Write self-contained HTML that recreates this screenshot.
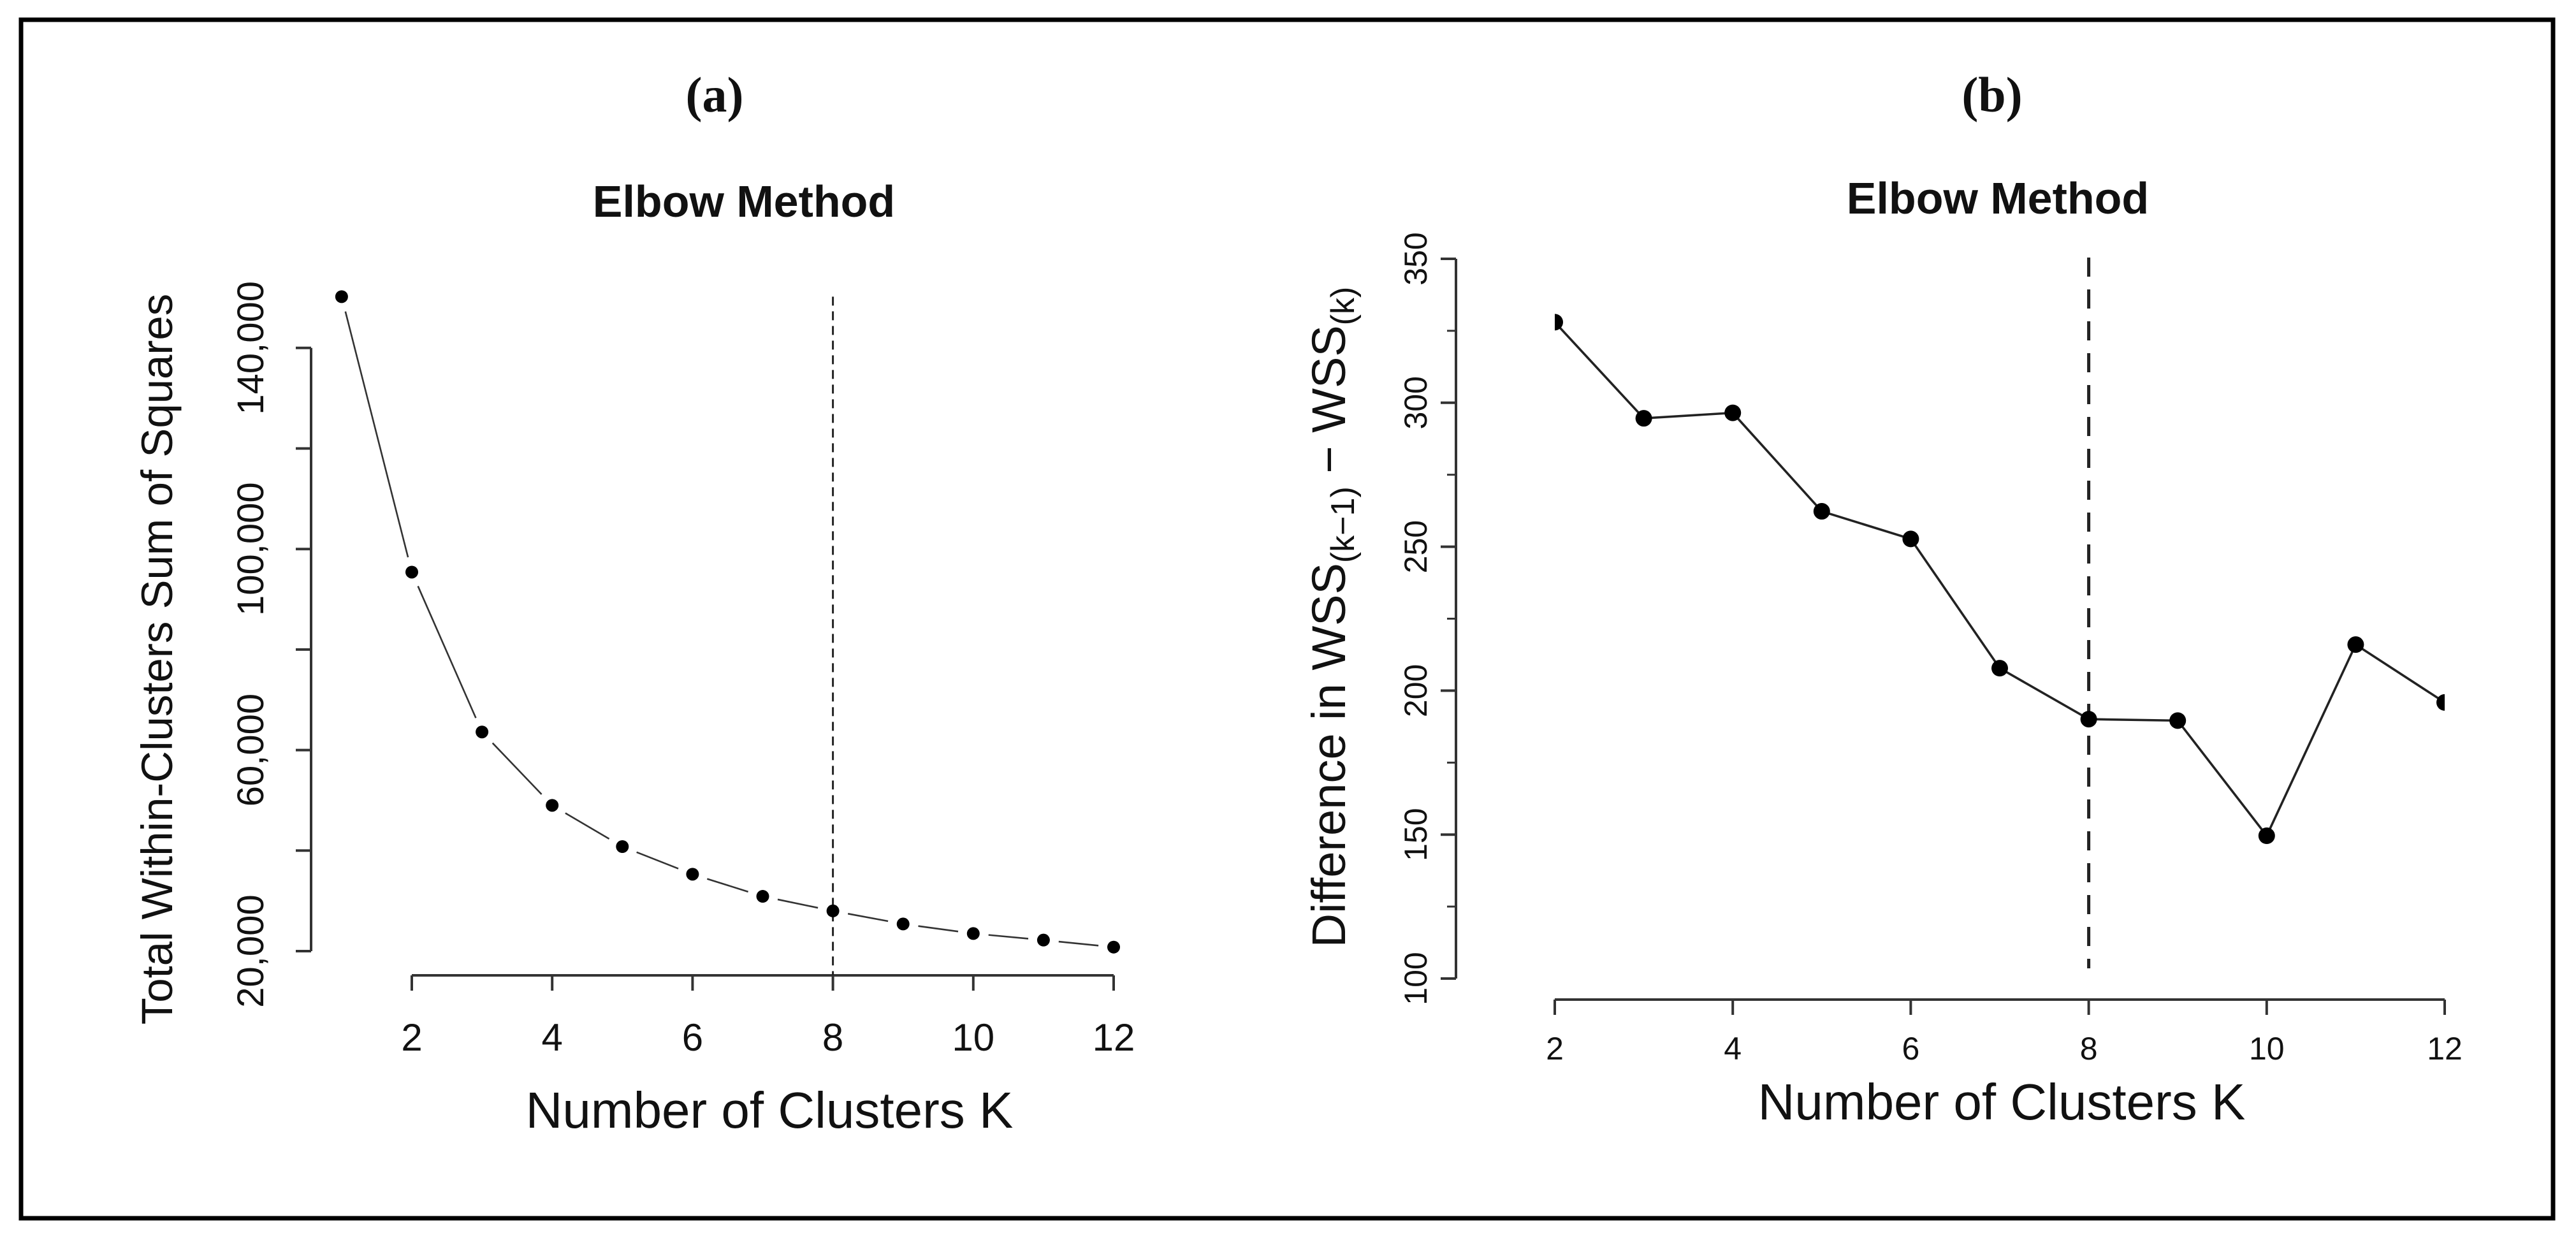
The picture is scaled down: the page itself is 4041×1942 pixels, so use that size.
<!DOCTYPE html>
<html><head><meta charset="utf-8"><style>
html,body{margin:0;padding:0;background:#fff;}
svg{display:block;}
text{font-family:"Liberation Sans",sans-serif;fill:#111;}
</style></head><body>
<svg id="fig" width="4041" height="1942" viewBox="0 0 4041 1942" xmlns="http://www.w3.org/2000/svg">
<rect x="33" y="31" width="3972" height="1880" fill="none" stroke="#000" stroke-width="7"/>
<defs><clipPath id="clipB"><rect x="2439" y="300" width="1396" height="1300"/></clipPath></defs>
<g id="panelA"></g>
<g id="panelB"></g>
</svg>
<script>
const kA = [1,2,3,4,5,6,7,8,9,10,11,12];
const wssA = [150200,95400,63600,49000,40800,35300,30900,28000,25400,23500,22200,20800];
const yTicksA = [20000,40000,60000,80000,100000,120000,140000];
const yTickLabelsA = ["20,000","","60,000","","100,000","","140,000"];
const xTicksA = [2,4,6,8,10,12];
const elbowA = 8;

const kB = [2,3,4,5,6,7,8,9,10,11,12];
const diffB = [328,294.6,296.5,262.3,252.7,207.8,190.1,189.6,149.6,216,195.9];
const yTicksB = [100,150,200,250,300,350];
const xTicksB = [2,4,6,8,10,12];
const elbowB = 8;

const NS = "http://www.w3.org/2000/svg";
function mk(parent, tag, attrs, txt){
  const e = document.createElementNS(NS, tag);
  for (const k in attrs) e.setAttribute(k, attrs[k]);
  if (txt !== undefined) e.textContent = txt;
  parent.appendChild(e);
  return e;
}

// ---------- Panel A ----------
(function(){
  const g = document.getElementById('panelA');
  const xA = k => 646 + (k-2)*110.1;
  const yA = v => 1492 - (v-20000)/20000*157.7;
  const axY = 488, axX = 1530;

  let t = mk(g,'text',{x:1121,y:175,'text-anchor':'middle','font-size':78,'font-weight':'bold','style':'font-family:"Liberation Serif",serif'},'(a)');
   
  t = mk(g,'text',{x:1167,y:340,'text-anchor':'middle','font-size':70,'font-weight':'bold'},'Elbow Method');
   

  let ax = mk(g,'line',{x1:axY,x2:axY,y1:yA(140000),y2:yA(20000),stroke:'#333','stroke-width':4});
   
  yTicksA.forEach((v,i)=>{
    const tk = mk(g,'line',{x1:axY-24,x2:axY,y1:yA(v),y2:yA(v),stroke:'#333','stroke-width':4});
     
    if (yTickLabelsA[i]) {
      const lb = mk(g,'text',{x:0,y:0,'text-anchor':'middle','font-size':58,transform:`translate(413,${yA(v)}) rotate(-90)`},yTickLabelsA[i]);
       
    }
  });
  ax = mk(g,'line',{x1:xA(2),x2:xA(12),y1:axX,y2:axX,stroke:'#333','stroke-width':4});
   
  xTicksA.forEach(k=>{
    const tk = mk(g,'line',{x1:xA(k),x2:xA(k),y1:axX,y2:axX+24,stroke:'#333','stroke-width':4});
     
    const lb = mk(g,'text',{x:xA(k),y:1648,'text-anchor':'middle','font-size':60},String(k));
     
  });
  t = mk(g,'text',{x:1207,y:1769,'text-anchor':'middle','font-size':80},'Number of Clusters K');
   
  t = mk(g,'text',{x:0,y:0,'text-anchor':'middle','font-size':69,transform:'translate(270,1034) rotate(-90)'},'Total Within-Clusters Sum of Squares');
   

  const el = mk(g,'line',{x1:xA(elbowA),x2:xA(elbowA),y1:yA(wssA[0]),y2:axX,stroke:'#222','stroke-width':3,'stroke-dasharray':'14 9'});
   

  for (let i=0;i<kA.length-1;i++){
    const x1=xA(kA[i]),y1=yA(wssA[i]),x2=xA(kA[i+1]),y2=yA(wssA[i+1]);
    const d=Math.hypot(x2-x1,y2-y1), gap=24;
    if (d>2*gap){
      const ux=(x2-x1)/d, uy=(y2-y1)/d;
      const s = mk(g,'line',{x1:x1+ux*gap,y1:y1+uy*gap,x2:x2-ux*gap,y2:y2-uy*gap,stroke:'#333','stroke-width':2.6});
       
    }
  }
  kA.forEach((k,i)=>{
    const c = mk(g,'circle',{cx:xA(k),cy:yA(wssA[i]),r:10,fill:'#000'});
     
  });
})();

// ---------- Panel B ----------
(function(){
  const g = document.getElementById('panelB');
  const xB = k => 2439 + (k-2)*139.6;
  const yB = v => 1535 - (v-100)/50*225.8;
  const axY = 2284, axX = 1568;

  let t = mk(g,'text',{x:3125,y:175,'text-anchor':'middle','font-size':78,'font-weight':'bold','style':'font-family:"Liberation Serif",serif'},'(b)');
   
  t = mk(g,'text',{x:3134,y:335,'text-anchor':'middle','font-size':70,'font-weight':'bold'},'Elbow Method');
   

  let ax = mk(g,'line',{x1:axY,x2:axY,y1:yB(350),y2:yB(100),stroke:'#333','stroke-width':4});
   
  const minor = [125,175,225,275,325];
  minor.forEach(v=>{
    const tk = mk(g,'line',{x1:axY-14,x2:axY,y1:yB(v),y2:yB(v),stroke:'#333','stroke-width':3});
     
  });
  yTicksB.forEach(v=>{
    const tk = mk(g,'line',{x1:axY-24,x2:axY,y1:yB(v),y2:yB(v),stroke:'#333','stroke-width':4});
     
    const lb = mk(g,'text',{x:0,y:0,'text-anchor':'middle','font-size':50,transform:`translate(2238,${yB(v)}) rotate(-90)`},String(v));
     
  });
  ax = mk(g,'line',{x1:xB(2),x2:xB(12),y1:axX,y2:axX,stroke:'#333','stroke-width':4});
   
  xTicksB.forEach(k=>{
    const tk = mk(g,'line',{x1:xB(k),x2:xB(k),y1:axX,y2:axX+24,stroke:'#333','stroke-width':4});
     
    const lb = mk(g,'text',{x:xB(k),y:1662,'text-anchor':'middle','font-size':50},String(k));
     
  });
  t = mk(g,'text',{x:3140,y:1756,'text-anchor':'middle','font-size':80},'Number of Clusters K');
   

  const yl = mk(g,'text',{x:0,y:0,'text-anchor':'middle','font-size':74,transform:'translate(2110,968) rotate(-90)'});
   
  mk(yl,'tspan',{},'Difference in WSS');
  mk(yl,'tspan',{'font-size':52,dy:14},'(k\u22121)');
  mk(yl,'tspan',{dy:-14},' \u2212 WSS');
  mk(yl,'tspan',{'font-size':52,dy:14},'(k)');

  const el = mk(g,'line',{x1:xB(elbowB),x2:xB(elbowB),y1:404,y2:1519,stroke:'#222','stroke-width':5,'stroke-dasharray':'30 20'});
   

  const cg = mk(g,'g',{'clip-path':'url(#clipB)'});
   
  const pts = kB.map((k,i)=>xB(k)+','+yB(diffB[i])).join(' ');
  const pl = mk(cg,'polyline',{points:pts,fill:'none',stroke:'#222','stroke-width':3.6});
   
  kB.forEach((k,i)=>{
    const c = mk(cg,'circle',{cx:xB(k),cy:yB(diffB[i]),r:13,fill:'#000'});
     
  });
})();
</script>
</body></html>
